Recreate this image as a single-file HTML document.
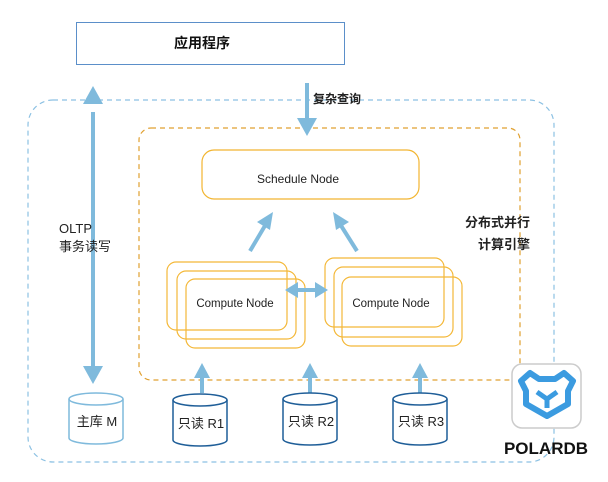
<!DOCTYPE html>
<html><head><meta charset="utf-8"><style>
body{margin:0;background:#fff;}
svg text{font-family:"Liberation Sans","Noto Sans CJK SC",sans-serif;}
</style></head><body>
<svg width="608" height="477" viewBox="0 0 608 477" xmlns="http://www.w3.org/2000/svg">
<rect x="0" y="0" width="608" height="477" fill="#fff"/>
<rect x="76.5" y="22.5" width="268" height="42" fill="#fff" stroke="#5b8fc9" stroke-width="1"/>
<text x="202" y="48" font-size="14" font-weight="bold" text-anchor="middle" fill="#111">应用程序</text>
<rect x="28" y="100" width="526" height="362" rx="25" fill="none" stroke="#8cc1e3" stroke-width="1.2" stroke-dasharray="5,4"/>
<rect x="139" y="128" width="381" height="252" rx="12" fill="none" stroke="#e0a030" stroke-width="1.2" stroke-dasharray="5,4"/>
<rect x="202" y="150" width="217" height="49" rx="12" fill="#fff" stroke="#f2b530" stroke-width="1.2"/>
<text x="298" y="183" font-size="12" text-anchor="middle" fill="#222">Schedule Node</text>
<g fill="none" stroke="#f4b838" stroke-width="1.2">
<rect x="167" y="262" width="120" height="68" rx="9"/>
<rect x="177" y="271" width="119" height="68" rx="9"/>
<rect x="186" y="279" width="119" height="69" rx="9"/>
<rect x="325" y="258" width="119" height="69" rx="9"/>
<rect x="334" y="267" width="119" height="70" rx="9"/>
<rect x="342" y="277" width="120" height="69" rx="9"/>
</g>
<text x="235" y="307" font-size="11.5" text-anchor="middle" fill="#222">Compute Node</text>
<text x="391" y="307" font-size="11.5" text-anchor="middle" fill="#222">Compute Node</text>
<g stroke="#7fbadc" stroke-width="4" fill="none">
<line x1="93" y1="112" x2="93" y2="372"/>
<line x1="307" y1="83" x2="307" y2="122"/>
<line x1="294" y1="290" x2="318" y2="290"/>
<line x1="250" y1="251" x2="266" y2="224"/>
<line x1="357" y1="251" x2="340" y2="224"/>
<line x1="202" y1="393" x2="202" y2="375"/>
<line x1="310" y1="393" x2="310" y2="375"/>
<line x1="420" y1="393" x2="420" y2="375"/>
</g>
<g fill="#7fbadc">
<polygon points="93,86 83,104 103,104"/>
<polygon points="93,384 83,366 103,366"/>
<polygon points="307,136 297,118 317,118"/>
<polygon points="285,290 298,282 298,298"/>
<polygon points="328,290 315,282 315,298"/>
<polygon points="273,212 257,222 270,230"/>
<polygon points="333,212 336,230 349,222"/>
<polygon points="202,363 194,378 210,378"/>
<polygon points="310,363 302,378 318,378"/>
<polygon points="420,363 412,378 428,378"/>
</g>
<text x="313" y="103" font-size="12" font-weight="bold" fill="#222">复杂查询</text>
<text x="59" y="233" font-size="13" fill="#222">OLTP</text>
<text x="59" y="251" font-size="13" fill="#222">事务读写</text>
<text x="530" y="227" font-size="13" font-weight="bold" text-anchor="end" fill="#222">分布式并行</text>
<text x="530" y="249" font-size="13" font-weight="bold" text-anchor="end" fill="#222">计算引擎</text>
<g fill="#fff" stroke-width="1.5">
<g stroke="#7fbadc">
<path d="M69,399 L69,438 A27,6 0 0 0 123,438 L123,399"/>
<ellipse cx="96" cy="399" rx="27" ry="6"/>
</g>
<g stroke="#1f5e98">
<path d="M173,400 L173,440 A27,6 0 0 0 227,440 L227,400"/>
<ellipse cx="200" cy="400" rx="27" ry="6"/>
<path d="M283,399 L283,439 A27,6 0 0 0 337,439 L337,399"/>
<ellipse cx="310" cy="399" rx="27" ry="6"/>
<path d="M393,399 L393,439 A27,6 0 0 0 447,439 L447,399"/>
<ellipse cx="420" cy="399" rx="27" ry="6"/>
</g>
</g>
<text x="97" y="426" font-size="13" text-anchor="middle" fill="#222">主库 M</text>
<text x="201" y="428" font-size="13" text-anchor="middle" fill="#222">只读 R1</text>
<text x="311" y="426" font-size="13" text-anchor="middle" fill="#222">只读 R2</text>
<text x="421" y="426" font-size="13" text-anchor="middle" fill="#222">只读 R3</text>
<rect x="512" y="364" width="69" height="64" rx="10" fill="#fff" stroke="#ccc" stroke-width="1.5"/>
<g fill="none" stroke="#3b9be0" stroke-width="6" stroke-linejoin="round">
<path d="M521,381 L530,373 L539,379 L555,379 L564,373 L573,381 L568,391 L568,404 L547,416 L526,404 L526,391 Z"/>
</g>
<g fill="none" stroke="#3b9be0" stroke-width="5">
<path d="M537,392 L547,399 L557,392"/>
<line x1="547" y1="399" x2="547" y2="408"/>
</g>
<text x="546" y="454" font-size="17" font-weight="bold" text-anchor="middle" fill="#111">POLARDB</text>
</svg>
</body></html>
